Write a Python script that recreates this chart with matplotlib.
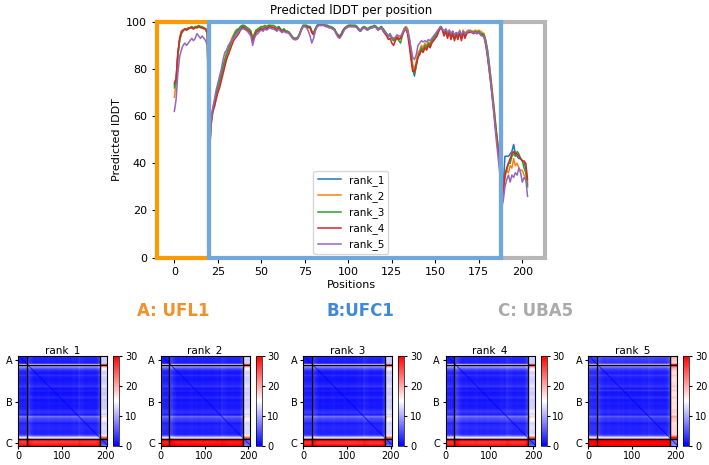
import numpy as np
import matplotlib
matplotlib.use("Agg")
import matplotlib.pyplot as plt
from matplotlib.patches import Rectangle

# predicted lDDT per residue (A: 0-19, B: 20-187, C: 188-203)
rank_1 = [73, 76, 86, 92, 95, 96, 97, 96.5, 97, 97.5, 97.5, 97, 98, 97.5, 98, 98, 97.5, 97.5, 97, 95,
          40, 58, 63, 66, 69, 72, 74, 77, 80, 83, 86, 88, 90, 92, 93.5, 95, 96, 96.5, 97.5, 98,
          98, 97.5, 97, 96.5, 95.5, 92, 94, 96, 96.5, 97, 97.5, 97, 98, 97.5, 98, 98.5, 98, 98, 97.5, 97,
          98, 97, 96, 97, 96, 96, 95.5, 94.5, 93.5, 93, 93, 93.5, 95, 97, 98.5, 98.5, 98.5, 98, 98, 96,
          95, 97, 98.5, 99, 99, 99, 99, 98.5, 98.5, 98, 98, 97.5, 97, 95.5, 94.5, 94, 95, 96.5, 97.5, 98,
          98.5, 98.5, 98.5, 98.5, 98.5, 98, 97, 96.5, 97.5, 98, 97.5, 97, 97.5, 98, 98, 98.5, 98, 97, 97.5, 98,
          97, 96, 95, 94, 95, 93, 92, 93, 94, 93, 93, 95, 97, 98, 97, 93, 87, 80, 77, 82,
          86, 87, 89, 88, 90, 89, 91, 90, 92, 93, 94, 95, 96.5, 98, 97, 95, 96.5, 94, 96, 94,
          96, 93, 95, 94, 96, 93, 96, 94, 95.5, 96, 96, 96, 95.5, 96, 95.5, 96, 95, 94.5, 94, 91,
          86, 80, 74, 67, 60, 53, 47, 40,
          24, 30, 43, 43, 43, 44, 45, 48, 44, 43, 42, 42, 41, 40, 38, 31]
rank_2 = [68, 74, 85, 92, 95, 96, 97, 97, 97, 97.5, 98, 97, 98, 97.5, 98, 98, 97.5, 97.5, 97, 95,
          40, 55, 61, 64, 68, 72, 75, 78, 81, 84, 87, 89, 91, 93, 94.5, 96, 97, 97, 98, 98.5,
          98.5, 98, 97, 97, 96, 92.5, 94.5, 96.5, 97, 97.5, 98, 97.5, 98, 98, 98.5, 98.5, 98, 98, 97.5, 97,
          97.5, 96.5, 96, 96.5, 96, 96, 95.5, 94.5, 93.5, 93, 93, 93.5, 95, 97, 98.5, 98.5, 98, 98, 97.5, 95.5,
          94.5, 96.5, 98, 98.5, 99, 99, 98.5, 98.5, 98, 98, 97.5, 97.5, 97, 95.5, 94, 93.5, 94.5, 96, 97.5, 98,
          98.5, 98.5, 98.5, 98, 98, 97.5, 96.5, 96, 97, 97.5, 97.5, 97, 97.5, 97.5, 98, 98, 97.5, 97, 97, 97.5,
          96.5, 95.5, 95, 94, 94.5, 93.5, 92.5, 93, 94, 93, 93.5, 95, 97, 98, 97, 94, 88, 82, 80, 83,
          87, 88, 90, 89, 91, 90, 91.5, 91, 92.5, 93.5, 94.5, 95.5, 97, 98, 97, 95.5, 97, 95, 96.5, 94.5,
          96, 94, 95.5, 94.5, 96.5, 94, 96.5, 95, 96, 96.5, 96.5, 96, 96, 96.5, 96, 96.5, 96, 95.5, 95, 92,
          88, 82, 76, 69, 62, 54, 48, 41,
          25, 27, 34, 37, 36, 39, 38, 42, 39, 40, 38, 37, 37, 35, 34, 32]
rank_3 = [72, 74, 86, 92, 95, 96.5, 97, 97, 97.5, 97.5, 98, 97.5, 98, 98, 98.5, 98, 98, 97.5, 97, 95,
          40, 56, 62, 65, 69, 72, 75, 78, 81, 84, 86, 88, 90, 92, 94, 95.5, 96.5, 97, 98, 98.5,
          98.5, 98, 97.5, 97, 96, 93, 95, 96.5, 97, 97.5, 98, 98, 98.5, 98, 98.5, 98.5, 98.5, 98.5, 98, 97.5,
          98, 97, 96.5, 97, 96, 96, 95.5, 94.5, 93.5, 93, 93, 93.5, 95, 97, 98.5, 98.5, 98.5, 98, 98, 96,
          95.5, 97, 98.5, 99, 99, 99, 99, 98.5, 98.5, 98, 98, 97.5, 97, 95.5, 94.5, 94, 95, 96.5, 97.5, 98,
          98.5, 98.5, 98.5, 98.5, 98.5, 98, 97, 96.5, 97.5, 98, 97.5, 97, 97.5, 98, 98, 98.5, 98, 97, 97.5, 98,
          97, 96, 95, 93.5, 94.5, 93, 92, 93, 93, 92, 91, 94, 96.5, 97.5, 96, 92, 86, 80, 78, 81,
          85, 87, 89, 88, 90, 89, 91, 90, 92, 93, 94, 95, 96.5, 98, 97, 95, 96.5, 94, 96, 94,
          95.5, 93, 95, 94, 96, 93, 96, 94, 95.5, 96, 96, 96, 95.5, 96, 95.5, 96, 95, 95, 94.5, 92,
          88, 82, 75, 68, 61, 54, 47, 40,
          24, 28, 36, 37, 40, 40, 43, 44, 43, 45, 44, 42, 41, 38, 36, 30]
rank_4 = [74, 76, 87, 93, 96, 96.5, 97, 96.5, 97, 97.5, 97.5, 97, 97.5, 97.5, 98, 97.5, 97.5, 97, 97, 95,
          40, 57, 62, 64, 67, 70, 72, 75, 78, 81, 84, 86, 88, 90, 92, 93, 94, 95, 96.5, 97.5,
          97.5, 97, 96.5, 96, 95, 92, 93.5, 95.5, 96, 96.5, 97, 96.5, 97.5, 97, 97.5, 98, 97.5, 97.5, 97, 96.5,
          97.5, 96.5, 95.5, 96.5, 95.5, 95.5, 95, 94, 93, 92.5, 92.5, 93, 94.5, 96.5, 98, 98, 98, 97.5, 97.5, 95.5,
          94.5, 96.5, 98, 98.5, 98.5, 98.5, 98.5, 98, 98, 97.5, 97.5, 97, 96.5, 95, 94, 93.5, 94.5, 96, 97, 97.5,
          98, 98, 98, 98, 98, 97.5, 96.5, 96, 97, 97.5, 97, 96.5, 97, 97.5, 97.5, 98, 97.5, 96.5, 97, 97.5,
          96, 95, 94, 92.5, 93, 91, 90, 92, 93.5, 92.5, 93, 94.5, 96, 97, 95, 90, 84, 79, 79, 82,
          85, 86, 88, 87, 89, 88, 90, 89, 91, 92, 93, 94, 96, 97.5, 96.5, 94, 96, 93, 95.5, 92.5,
          95, 92, 94.5, 92.5, 95.5, 92, 95.5, 93, 95, 95.5, 95.5, 95.5, 95, 95.5, 95, 95.5, 94.5, 94, 93.5, 90,
          85, 79, 73, 66, 59, 52, 46, 39,
          24, 28, 35, 38, 40, 42, 44, 45, 44, 44, 43, 42, 41, 41, 40, 33]
rank_5 = [62, 67, 78, 85, 88, 90, 91, 90, 91, 92, 93, 92, 93, 95, 94, 93, 94, 93, 92, 90,
          38, 58, 63, 67, 71, 74, 77, 80, 84, 87, 88, 90, 91, 92, 93, 94, 95, 96, 96.5, 97,
          97, 96.5, 96, 95, 94, 90, 93, 94.5, 95, 96, 96.5, 96, 97, 96.5, 97, 97.5, 97, 97, 96.5, 96,
          97, 96, 95.5, 96, 95.5, 95.5, 95, 94, 93, 92.5, 92.5, 93, 94.5, 96.5, 98, 98, 97.5, 96, 94, 91,
          93, 96, 98, 98.5, 98.5, 98.5, 98.5, 98, 98, 97.5, 97.5, 97, 96.5, 95, 93.5, 93, 94, 95.5, 97, 97.5,
          98, 98, 98, 98, 98, 97.5, 96.5, 96, 97, 97.5, 97, 96.5, 97, 97.5, 97.5, 98, 97.5, 96.5, 97, 97.5,
          96.5, 95.5, 95, 94, 94.5, 93.5, 93, 93.5, 94.5, 94, 94, 95, 96.5, 97, 96, 93, 89, 85, 84, 86,
          90, 91, 92, 91.5, 92, 91.5, 92.5, 92, 93, 94, 95, 96, 97, 98, 97, 96, 97, 95.5, 96.5, 95,
          96, 94.5, 95.5, 95, 96, 94.5, 96, 95, 95.5, 96, 96, 95.5, 95.5, 95.5, 95, 95.5, 94.5, 94, 93.5, 91,
          86, 80, 73, 66, 58, 50, 43, 36,
          21, 24, 30, 33, 35, 32, 35, 34, 36, 35, 38, 36, 32, 34, 33, 26]

ranks = ['rank_1', 'rank_2', 'rank_3', 'rank_4', 'rank_5']
plddts = [rank_1, rank_2, rank_3, rank_4, rank_5]
for p in plddts:
    assert len(p) == 204, len(p)

chain_labels = ['A', 'B', 'C']
chain_starts = [0, 20, 188]
chain_names = ['A: UFL1', 'B:UFC1', 'C: UBA5']
chain_colors = ['#ff9900', '#6fa8dc', '#b7b7b7']
name_colors = ['#f39128', '#3f8ad6', '#aaaaaa']

# typical PAE between chain blocks (row chain, column chain), per rank
pae_blocks = [
    [[0.5, 1, 8], [1, 0.5, 8], [10, 10, -16]],
    [[0.5, 1, 8], [1, 0.5, 8], [10, 10, -16]],
    [[0.5, 1, 8], [1, 0.5, 8], [10, 10, -16]],
    [[0.5, 1, 8], [1, 0.5, 8], [10, 10, -16]],
    [[0.5, 1, 12], [1, 0.5, 12], [10, 10, -16]],
]

fig = plt.figure(figsize=(7.09, 4.65), dpi=100)

# ---- top: lDDT per position
ax = fig.add_axes([0.221, 0.446, 0.548, 0.507])
pos = np.arange(204)
for name, p in zip(ranks, plddts):
    ax.plot(pos, p, lw=1.1, label=name)
ax.set_xlim(-10.15, 213.15)
ax.set_ylim(0, 100)
ax.set_xticks(range(0, 201, 25))
ax.set_yticks(range(0, 101, 20))
ax.tick_params(labelsize=8)
ax.set_title('Predicted lDDT per position', fontsize=8.5, pad=6)
ax.set_xlabel('Positions', fontsize=8, labelpad=2)
ax.set_ylabel('Predicted lDDT', fontsize=8, labelpad=3)
ax.legend(loc='lower center', fontsize=7.5, handlelength=2.2, borderaxespad=0.3)
for s in ax.spines.values():
    s.set_visible(False)

bounds = [-10.15, 20, 188, 213.15]
for k in [0, 2, 1]:
    ax.add_patch(Rectangle((bounds[k], 0), bounds[k + 1] - bounds[k], 100, fill=False,
                           ec=chain_colors[k], lw=3, clip_on=False, zorder=5))

for name, c, x in zip(chain_names, name_colors, [0.245, 0.508, 0.755]):
    fig.text(x, 0.331, name, color=c, fontsize=12, fontweight='bold', ha='center', va='center')

# ---- bottom: PAE heatmaps
chain_idx = np.searchsorted(chain_starts, pos, side='right') - 1
near_diag = np.abs(pos[:, None] - pos[None, :]) < 2
for k, (name, p) in enumerate(zip(ranks, plddts)):
    loss = 100 - np.array(p)
    blocks = np.array(pae_blocks[k])
    pae = blocks[chain_idx[:, None], chain_idx[None, :]] + 0.3 * loss[:, None] + 0.06 * loss[None, :]
    pae[near_diag] *= 0.2
    pae = np.clip(pae, 0, 30)

    left = (18 + 142.5 * k) / 709
    hax = fig.add_axes([left, 0.041, 0.126, 0.194])
    im = hax.imshow(pae, cmap='bwr', vmin=0, vmax=30, aspect='auto')
    for b in [19.5, 187.5]:
        hax.axhline(b, color='black', lw=1)
        hax.axvline(b, color='black', lw=1)
    hax.set_xticks([0, 100, 200])
    hax.set_yticks([10, 104, 196])
    hax.set_yticklabels(chain_labels)
    hax.tick_params(labelsize=7, length=2.5, pad=1.5)
    hax.set_title(name, fontsize=7.5, pad=2)

    cax = fig.add_axes([left + 0.134, 0.041, 0.009, 0.194])
    cb = fig.colorbar(im, cax=cax, ticks=[0, 10, 20, 30])
    cb.ax.tick_params(labelsize=7, length=2.5, pad=1.5)
    cb.outline.set_linewidth(0.5)

fig.savefig('out.png', dpi=100)
